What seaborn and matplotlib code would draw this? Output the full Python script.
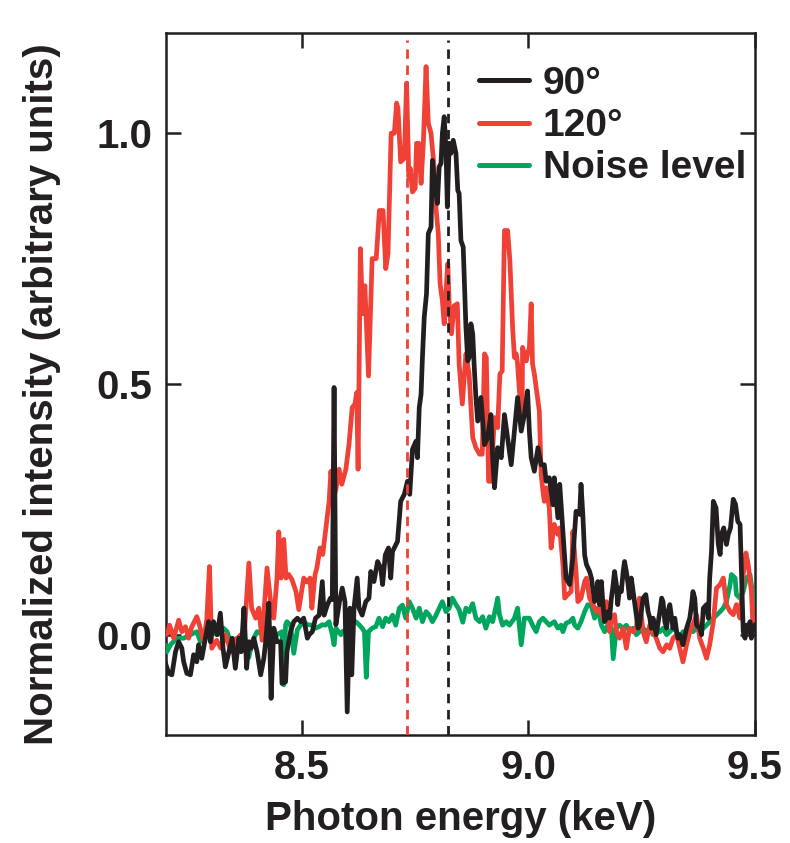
import matplotlib
matplotlib.use("Agg")
import matplotlib.pyplot as plt
import seaborn as sns
import pandas as pd

# ---------------- data ----------------
energy_90 = [
    8.198, 8.206, 8.213, 8.221, 8.228, 8.235, 8.239, 8.246, 8.254, 8.261,
    8.268, 8.272, 8.279, 8.287, 8.294, 8.298, 8.305, 8.313, 8.320, 8.326,
    8.331, 8.339, 8.346, 8.353, 8.361, 8.366, 8.372, 8.378, 8.383, 8.388,
    8.394, 8.401, 8.409, 8.416, 8.420, 8.427, 8.432, 8.438, 8.445, 8.453,
    8.456, 8.464, 8.467, 8.475, 8.482, 8.490, 8.497, 8.504, 8.512, 8.516,
    8.523, 8.530, 8.538, 8.545, 8.549, 8.556, 8.563, 8.567, 8.571, 8.575,
    8.583, 8.589, 8.595, 8.600, 8.606, 8.610, 8.615, 8.622, 8.626, 8.633,
    8.641, 8.648, 8.652, 8.659, 8.667, 8.674, 8.678, 8.684, 8.691, 8.696,
    8.700, 8.707, 8.711, 8.718, 8.726, 8.733, 8.738, 8.744, 8.752, 8.755,
    8.759, 8.763, 8.766, 8.770, 8.775, 8.779, 8.785, 8.788, 8.794, 8.799,
    8.803, 8.807, 8.810, 8.814, 8.818, 8.821, 8.825, 8.829, 8.834, 8.840,
    8.844, 8.847, 8.851, 8.856, 8.862, 8.866, 8.869, 8.873, 8.877, 8.880,
    8.884, 8.888, 8.895, 8.903, 8.910, 8.917, 8.921, 8.925, 8.932, 8.940,
    8.947, 8.954, 8.958, 8.962, 8.969, 8.976, 8.984, 8.991, 8.998, 9.002,
    9.006, 9.013, 9.021, 9.028, 9.035, 9.039, 9.046, 9.054, 9.057, 9.065,
    9.069, 9.076, 9.080, 9.083, 9.091, 9.098, 9.105, 9.113, 9.116, 9.120,
    9.124, 9.128, 9.135, 9.139, 9.142, 9.146, 9.150, 9.153, 9.157, 9.161,
    9.164, 9.168, 9.172, 9.175, 9.179, 9.183, 9.186, 9.190, 9.194, 9.197,
    9.201, 9.205, 9.209, 9.212, 9.216, 9.220, 9.223, 9.227, 9.231, 9.234,
    9.242, 9.245, 9.253, 9.259, 9.264, 9.268, 9.271, 9.275, 9.282, 9.290,
    9.294, 9.297, 9.301, 9.305, 9.308, 9.312, 9.319, 9.323, 9.327, 9.330,
    9.334, 9.337, 9.341, 9.349, 9.356, 9.360, 9.363, 9.367, 9.371, 9.378,
    9.382, 9.386, 9.393, 9.397, 9.400, 9.404, 9.408, 9.414, 9.419, 9.423,
    9.426, 9.431, 9.437, 9.441, 9.446, 9.452, 9.457, 9.462, 9.467, 9.470,
    9.474, 9.478, 9.481, 9.485, 9.489, 9.492, 9.496, 9.500,
]
intensity_90 = [
    -0.054, -0.077, -0.080, -0.034, -0.014, -0.027, -0.054, -0.077, -0.080, -0.040,
    -0.054, -0.020, -0.047, -0.007, 0.026, -0.014, 0.026, 0.000, 0.043, -0.027,
    -0.064, -0.034, -0.007, -0.067, -0.007, -0.034, 0.053, -0.067, -0.014, -0.027,
    -0.007, -0.034, -0.080, -0.047, -0.014, 0.063, -0.127, 0.013, -0.014, -0.014,
    -0.097, -0.094, -0.034, 0.006, 0.026, 0.033, 0.026, 0.033, -0.007, 0.000,
    0.006, 0.033, 0.039, 0.106, 0.039, 0.059, 0.073, 0.070, 0.493, 0.020,
    0.066, 0.093, 0.066, -0.154, 0.053, -0.080, 0.053, 0.113, 0.053, 0.039,
    0.066, 0.073, 0.126, 0.106, 0.146, 0.133, 0.100, 0.159, 0.173, 0.113,
    0.166, 0.179, 0.186, 0.266, 0.280, 0.306, 0.280, 0.370, 0.386, 0.353,
    0.453, 0.480, 0.553, 0.633, 0.680, 0.800, 0.813, 0.946, 0.893, 0.860,
    0.933, 0.940, 1.000, 1.033, 0.966, 0.853, 0.980, 0.960, 0.986, 0.960,
    0.886, 0.880, 0.786, 0.773, 0.613, 0.546, 0.553, 0.620, 0.600, 0.540,
    0.473, 0.426, 0.473, 0.379, 0.393, 0.439, 0.353, 0.293, 0.373, 0.353,
    0.439, 0.393, 0.366, 0.339, 0.406, 0.473, 0.406, 0.439, 0.486, 0.406,
    0.353, 0.326, 0.373, 0.339, 0.339, 0.306, 0.313, 0.259, 0.313, 0.233,
    0.300, 0.206, 0.153, 0.113, 0.100, 0.153, 0.246, 0.240, 0.300, 0.240,
    0.159, 0.140, 0.126, 0.113, 0.093, 0.066, 0.073, 0.106, 0.060, 0.106,
    0.066, 0.026, 0.033, 0.046, 0.033, 0.073, 0.093, 0.126, 0.100, 0.060,
    0.093, 0.086, 0.126, 0.146, 0.126, 0.100, 0.073, 0.113, 0.086, 0.066,
    0.013, 0.019, 0.073, 0.080, 0.046, 0.033, 0.013, 0.033, 0.000, 0.046,
    0.073, 0.066, 0.026, 0.013, 0.046, 0.060, 0.013, 0.033, 0.006, -0.007,
    0.000, -0.007, -0.020, 0.013, 0.033, 0.060, 0.086, 0.073, 0.019, 0.013,
    0.000, 0.053, 0.060, 0.033, 0.113, 0.166, 0.266, 0.253, 0.180, 0.160,
    0.200, 0.213, 0.180, 0.200, 0.213, 0.270, 0.260, 0.226, 0.220, 0.126,
    0.006, -0.007, 0.019, 0.006, 0.026, -0.007, 0.013, 0.020,
]

energy_120 = [
    8.199, 8.204, 8.208, 8.217, 8.228, 8.235, 8.243, 8.250, 8.257, 8.268,
    8.274, 8.283, 8.290, 8.296, 8.301, 8.312, 8.321, 8.332, 8.343, 8.354,
    8.365, 8.372, 8.383, 8.389, 8.398, 8.405, 8.412, 8.423, 8.431, 8.438,
    8.445, 8.449, 8.454, 8.460, 8.465, 8.471, 8.478, 8.487, 8.493, 8.504,
    8.511, 8.518, 8.522, 8.529, 8.533, 8.540, 8.546, 8.553, 8.560, 8.564,
    8.569, 8.575, 8.582, 8.588, 8.597, 8.604, 8.611, 8.617, 8.621, 8.624,
    8.629, 8.634, 8.639, 8.647, 8.655, 8.664, 8.671, 8.679, 8.685, 8.690,
    8.697, 8.704, 8.709, 8.712, 8.718, 8.726, 8.731, 8.736, 8.739, 8.744,
    8.750, 8.753, 8.758, 8.763, 8.768, 8.774, 8.779, 8.785, 8.792, 8.796,
    8.801, 8.805, 8.810, 8.814, 8.819, 8.822, 8.825, 8.830, 8.836, 8.843,
    8.847, 8.854, 8.862, 8.869, 8.877, 8.884, 8.892, 8.898, 8.903, 8.907,
    8.912, 8.917, 8.925, 8.932, 8.937, 8.942, 8.947, 8.954, 8.959, 8.965,
    8.969, 8.973, 8.976, 8.980, 8.986, 8.987, 8.995, 8.998, 9.002, 9.006,
    9.009, 9.013, 9.021, 9.024, 9.028, 9.032, 9.035, 9.039, 9.046, 9.050,
    9.057, 9.065, 9.069, 9.076, 9.080, 9.087, 9.094, 9.098, 9.105, 9.109,
    9.116, 9.124, 9.128, 9.135, 9.139, 9.150, 9.157, 9.164, 9.172, 9.179,
    9.183, 9.190, 9.194, 9.201, 9.209, 9.216, 9.223, 9.231, 9.238, 9.245,
    9.253, 9.260, 9.268, 9.275, 9.282, 9.290, 9.297, 9.305, 9.312, 9.319,
    9.327, 9.334, 9.341, 9.349, 9.356, 9.363, 9.371, 9.378, 9.386, 9.393,
    9.400, 9.408, 9.415, 9.423, 9.430, 9.437, 9.445, 9.452, 9.459, 9.467,
    9.474, 9.480, 9.485, 9.492, 9.496, 9.500,
]
intensity_120 = [
    0.000, 0.003, 0.019, -0.007, 0.029, 0.006, 0.016, -0.007, 0.016, 0.036,
    0.019, -0.014, 0.030, 0.136, -0.027, -0.011, -0.027, 0.000, -0.034, -0.011,
    0.000, -0.011, 0.143, 0.053, 0.033, 0.053, -0.011, 0.133, 0.066, 0.033,
    0.113, 0.205, 0.113, 0.190, 0.113, 0.120, 0.110, 0.086, 0.050, 0.113,
    0.105, 0.113, 0.053, 0.120, 0.133, 0.173, 0.160, 0.213, 0.266, 0.326,
    0.270, 0.290, 0.330, 0.300, 0.330, 0.380, 0.453, 0.460, 0.483, 0.330,
    0.770, 0.640, 0.696, 0.516, 0.750, 0.750, 0.846, 0.846, 0.730, 0.760,
    1.000, 1.000, 1.060, 1.050, 0.943, 0.950, 1.100, 0.913, 0.930, 0.883,
    0.890, 0.980, 0.980, 0.900, 0.980, 1.133, 1.020, 1.000, 0.930, 0.850,
    0.800, 0.700, 0.666, 0.620, 0.700, 0.740, 0.660, 0.600, 0.656, 0.660,
    0.540, 0.460, 0.560, 0.520, 0.393, 0.373, 0.360, 0.360, 0.560, 0.553,
    0.306, 0.306, 0.433, 0.413, 0.520, 0.526, 0.806, 0.806, 0.746, 0.613,
    0.553, 0.560, 0.540, 0.486, 0.440, 0.573, 0.546, 0.560, 0.573, 0.660,
    0.540, 0.520, 0.466, 0.446, 0.320, 0.286, 0.266, 0.293, 0.253, 0.173,
    0.220, 0.200, 0.213, 0.140, 0.073, 0.080, 0.086, 0.206, 0.126, 0.066,
    0.073, 0.106, 0.113, 0.073, 0.066, 0.046, 0.053, 0.033, 0.066, 0.006,
    0.033, 0.040, 0.006, -0.007, 0.013, -0.027, 0.013, 0.006, 0.013, 0.073,
    0.006, -0.014, 0.020, 0.006, -0.007, -0.027, -0.034, -0.020, -0.027, -0.007,
    0.000, -0.027, -0.054, -0.020, 0.006, 0.020, 0.039, -0.007, -0.027, -0.047,
    -0.020, 0.026, 0.093, 0.100, 0.113, 0.060, 0.046, 0.040, 0.060, 0.033,
    0.120, 0.163, 0.140, 0.086, 0.006, 0.020,
]

energy_noise = [
    8.198, 8.202, 8.210, 8.224, 8.239, 8.254, 8.268, 8.276, 8.283, 8.298,
    8.313, 8.327, 8.335, 8.342, 8.357, 8.372, 8.383, 8.390, 8.401, 8.416,
    8.431, 8.445, 8.456, 8.460, 8.464, 8.467, 8.475, 8.482, 8.490, 8.497,
    8.504, 8.512, 8.523, 8.530, 8.538, 8.545, 8.552, 8.560, 8.567, 8.571,
    8.575, 8.586, 8.589, 8.597, 8.608, 8.611, 8.619, 8.626, 8.633, 8.638,
    8.642, 8.647, 8.655, 8.663, 8.670, 8.678, 8.685, 8.692, 8.700, 8.707,
    8.715, 8.722, 8.729, 8.737, 8.744, 8.752, 8.759, 8.766, 8.774, 8.781,
    8.788, 8.796, 8.803, 8.810, 8.818, 8.825, 8.832, 8.840, 8.847, 8.855,
    8.862, 8.869, 8.877, 8.884, 8.892, 8.899, 8.906, 8.914, 8.921, 8.929,
    8.932, 8.936, 8.943, 8.951, 8.958, 8.969, 8.976, 8.984, 8.991, 9.002,
    9.009, 9.017, 9.024, 9.032, 9.039, 9.046, 9.057, 9.065, 9.072, 9.076,
    9.083, 9.091, 9.098, 9.102, 9.109, 9.116, 9.124, 9.131, 9.139, 9.146,
    9.153, 9.161, 9.168, 9.175, 9.183, 9.187, 9.194, 9.201, 9.209, 9.216,
    9.223, 9.231, 9.238, 9.245, 9.253, 9.260, 9.268, 9.275, 9.282, 9.290,
    9.297, 9.305, 9.312, 9.319, 9.327, 9.334, 9.341, 9.349, 9.356, 9.363,
    9.371, 9.378, 9.386, 9.393, 9.400, 9.408, 9.415, 9.423, 9.430, 9.437,
    9.445, 9.448, 9.456, 9.459, 9.467, 9.474, 9.481, 9.489, 9.496, 9.500,
]
intensity_noise = [
    -0.020, -0.034, -0.020, -0.007, -0.007, 0.000, 0.006, -0.014, 0.000, 0.006,
    0.000, 0.013, 0.006, -0.014, -0.007, 0.000, -0.045, -0.014, 0.006, 0.000,
    0.013, 0.000, 0.006, -0.100, 0.020, 0.026, 0.019, -0.037, 0.010, 0.019,
    0.026, 0.020, 0.019, 0.013, 0.016, 0.020, 0.019, 0.026, 0.000, -0.020,
    0.013, 0.000, 0.006, 0.010, 0.019, 0.026, 0.026, 0.020, 0.013, 0.006,
    -0.085, 0.006, 0.013, 0.016, 0.033, 0.016, 0.033, 0.026, 0.039, 0.019,
    0.053, 0.059, 0.033, 0.066, 0.053, 0.033, 0.053, 0.026, 0.046, 0.039,
    0.026, 0.039, 0.053, 0.066, 0.046, 0.053, 0.073, 0.060, 0.050, 0.025,
    0.053, 0.046, 0.062, 0.033, 0.026, 0.036, 0.013, 0.036, 0.026, 0.059,
    0.073, 0.040, 0.019, 0.026, 0.019, 0.033, 0.053, -0.020, 0.033, 0.033,
    0.019, 0.006, 0.026, 0.033, 0.026, 0.019, 0.026, 0.013, 0.019, 0.006,
    0.023, 0.026, 0.033, 0.019, 0.013, 0.026, 0.046, 0.060, 0.056, 0.033,
    0.053, 0.019, 0.006, 0.019, 0.013, -0.048, 0.013, 0.019, 0.013, 0.019,
    0.006, 0.013, 0.000, 0.006, 0.013, 0.006, 0.013, 0.000, 0.013, 0.006,
    0.013, 0.000, 0.006, 0.013, 0.006, -0.007, 0.006, 0.006, 0.013, 0.006,
    0.013, 0.006, 0.013, 0.019, 0.026, 0.033, 0.039, 0.046, 0.053, 0.066,
    0.100, 0.120, 0.113, 0.080, 0.073, 0.086, 0.113, 0.120, 0.073, 0.060,
]

series_labels = ["90°", "120°", "Noise level"]
series_colors = ["#231f20", "#ef4136", "#00a65d"]
peak_energy_90 = 8.823
peak_energy_120 = 8.732
x_ticks = [8.5, 9.0, 9.5]
y_ticks = [0.0, 0.5, 1.0]
x_label = "Photon energy (keV)"
y_label = "Normalized intensity (arbitrary units)"

# ---------------- styling ----------------
sns.set_theme(style="ticks")
plt.rcParams["font.family"] = ["Liberation Sans", "DejaVu Sans"]
plt.rcParams["font.weight"] = "bold"
plt.rcParams["axes.labelweight"] = "bold"
ink = "#231f20"
data_lw = 3.4

fig = plt.figure(figsize=(7.9, 8.43), dpi=100)
ax = fig.add_axes([0.2101, 0.1281, 0.7456, 0.8328])

frames = {
    "90°": pd.DataFrame({"energy": energy_90, "intensity": intensity_90}),
    "120°": pd.DataFrame({"energy": energy_120, "intensity": intensity_120}),
    "Noise level": pd.DataFrame({"energy": energy_noise, "intensity": intensity_noise}),
}
color_of = dict(zip(series_labels, series_colors))

for name in ["Noise level", "120°", "90°"]:
    sns.lineplot(data=frames[name], x="energy", y="intensity", ax=ax,
                 color=color_of[name], label=name, linewidth=data_lw,
                 estimator=None, sort=False, zorder=3)
for line in ax.get_lines():
    line.set_linewidth(data_lw)
    line.set_solid_joinstyle("round")
    line.set_solid_capstyle("round")

ax.axvline(peak_energy_120, ymin=0, ymax=0.99, color=series_colors[1], linewidth=2.0,
           linestyle=(0, (3.4, 2.4)), zorder=4)
ax.axvline(peak_energy_90, ymin=0, ymax=0.99, color=series_colors[0], linewidth=2.0,
           linestyle=(0, (3.4, 2.4)), zorder=4)

ax.set_xlim(8.2, 9.5)
ax.set_ylim(-0.2, 1.2)
ax.set_xticks(x_ticks)
ax.set_xticklabels([f"{v:.1f}" for v in x_ticks])
ax.set_yticks(y_ticks)
ax.set_yticklabels([f"{v:.1f}" for v in y_ticks])
ax.tick_params(direction="in", length=10.8, width=1.8, top=True, right=True,
               labelsize=29, pad=10, colors=ink)
for sp in ax.spines.values():
    sp.set_linewidth(1.8)
    sp.set_color(ink)
    sp.set_visible(True)

ax.set_xlabel(x_label, fontsize=29, fontweight="bold", color=ink)
ax.set_ylabel(y_label, fontsize=29, fontweight="bold", color=ink)
ax.xaxis.set_label_coords(0.5, -0.093)
ax.yaxis.set_label_coords(-0.178, 0.486)

handles, labels = ax.get_legend_handles_labels()
hmap = dict(zip(labels, handles))
leg = ax.legend([hmap[n] for n in series_labels], series_labels,
                loc="upper right", bbox_to_anchor=(0.985, 0.953),
                frameon=False, fontsize=28, handlelength=1.3,
                handletextpad=0.35, labelspacing=0.16, borderpad=0,
                borderaxespad=0)
for t in leg.get_texts():
    t.set_color(ink)
    t.set_fontweight("bold")
for h in leg.legend_handles:
    h.set_linewidth(3.6)

fig.savefig("out.png", dpi=100)
